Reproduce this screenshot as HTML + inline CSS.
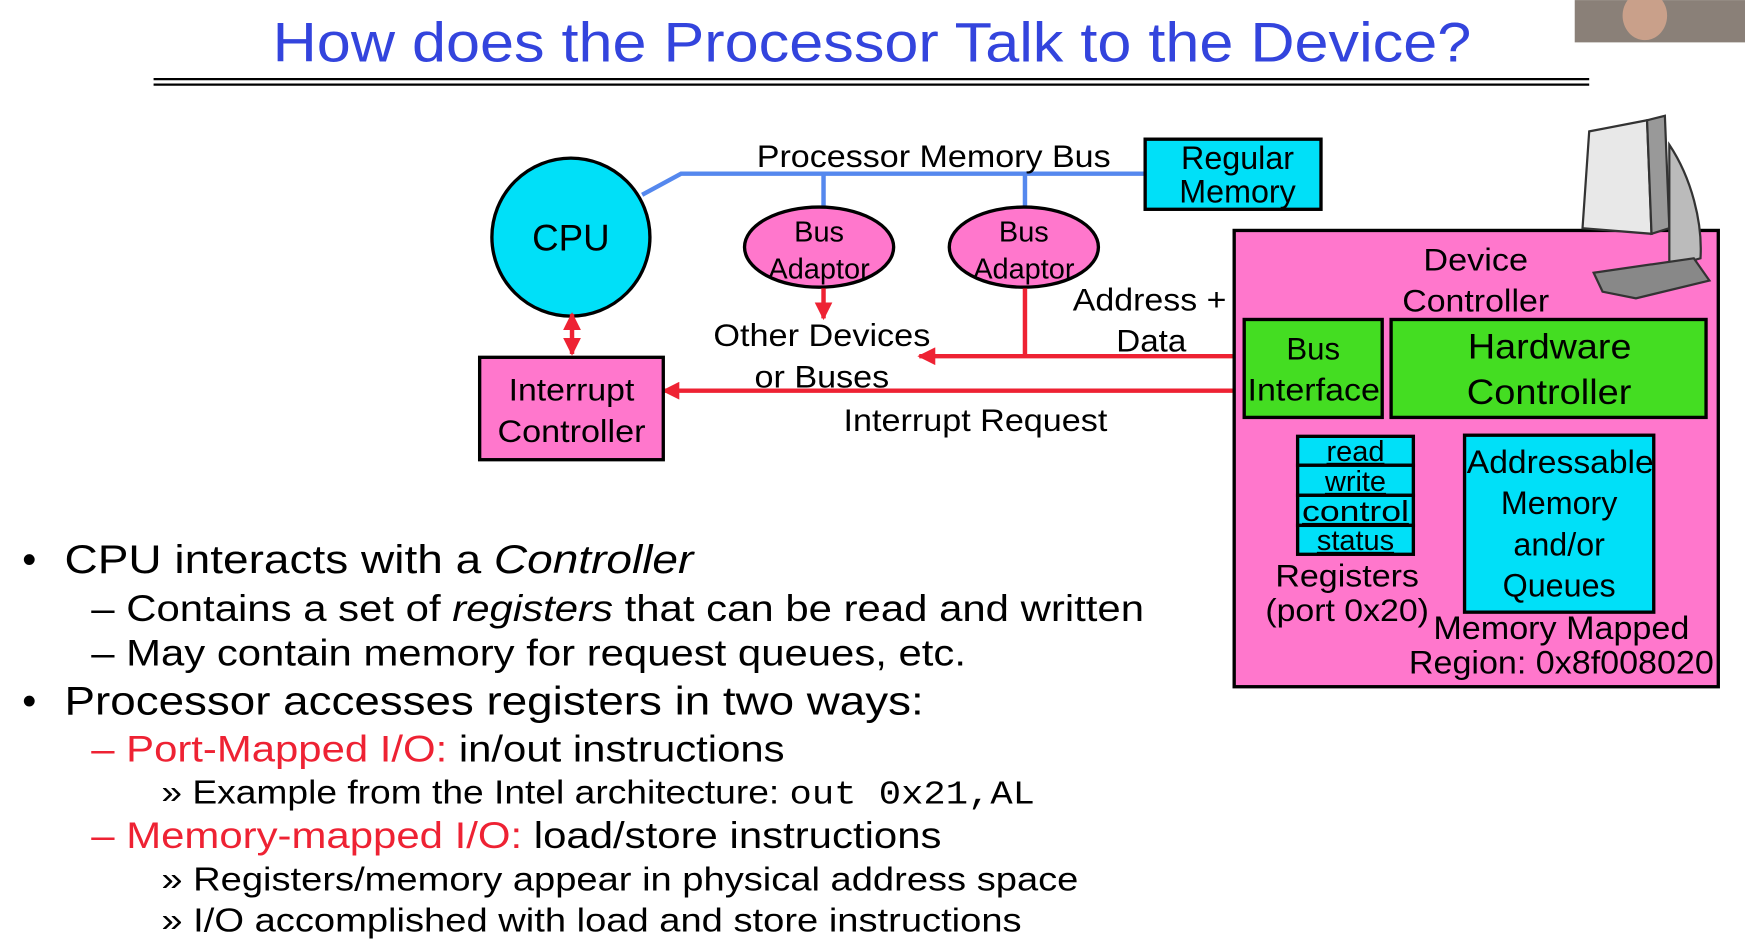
<!DOCTYPE html>
<html><head><meta charset="utf-8"><style>
html,body{margin:0;padding:0;background:#fff;width:1745px;height:945px;overflow:hidden}
svg{display:block}
text{font-family:"Liberation Sans",sans-serif;fill:#000}
</style></head><body>
<svg width="1745" height="945" viewBox="0 0 1568 849" xmlns="http://www.w3.org/2000/svg">
<defs>
<marker id="ar" viewBox="0 0 10 10" refX="9" refY="5" markerWidth="4" markerHeight="4" orient="auto-start-reverse"><path d="M0,0L10,5L0,10z" fill="#ee2233"/></marker>
</defs>
<!-- webcam -->
<rect x="1415" y="0" width="153" height="38" fill="#8a8078"/>
<ellipse cx="1478" cy="14" rx="20" ry="22" fill="#c9a08a"/>
<!-- title -->
<text x="245" y="55" font-size="50" textLength="1077" lengthAdjust="spacingAndGlyphs" style="fill:#3344dd">How does the Processor Talk to the Device?</text>
<line x1="138" y1="71" x2="1428" y2="71" stroke="#000" stroke-width="2"/>
<line x1="138" y1="76" x2="1428" y2="76" stroke="#000" stroke-width="2"/>
<!-- bus -->
<polyline points="577,175 612,156 1029,156" fill="none" stroke="#5588ee" stroke-width="4"/>
<line x1="740" y1="156" x2="740" y2="188" stroke="#5588ee" stroke-width="4"/>
<line x1="921" y1="156" x2="921" y2="188" stroke="#5588ee" stroke-width="4"/>
<text x="680" y="150" font-size="28" textLength="318" lengthAdjust="spacingAndGlyphs">Processor Memory Bus</text>
<rect x="1029" y="125" width="158" height="63" fill="#00e0f8" stroke="#000" stroke-width="3"/>
<text x="1112" y="152" font-size="29" text-anchor="middle">Regular</text>
<text x="1112" y="182" font-size="29" text-anchor="middle">Memory</text>
<!-- CPU -->
<circle cx="513" cy="213" r="71" fill="#00e0f8" stroke="#000" stroke-width="3"/>
<text x="513" y="225" font-size="33" text-anchor="middle">CPU</text>
<!-- adaptors -->
<ellipse cx="736" cy="222" rx="67" ry="36" fill="#ff77cc" stroke="#000" stroke-width="3"/>
<text x="736" y="217" font-size="26" text-anchor="middle">Bus</text>
<text x="736" y="250" font-size="26" text-anchor="middle">Adaptor</text>
<ellipse cx="920" cy="222" rx="67" ry="36" fill="#ff77cc" stroke="#000" stroke-width="3"/>
<text x="920" y="217" font-size="26" text-anchor="middle">Bus</text>
<text x="920" y="250" font-size="26" text-anchor="middle">Adaptor</text>
<!-- red -->
<line x1="740" y1="259" x2="740" y2="286" stroke="#ee2233" stroke-width="4" marker-end="url(#ar)"/>
<line x1="921" y1="259" x2="921" y2="320" stroke="#ee2233" stroke-width="4"/>
<line x1="1109" y1="320" x2="826" y2="320" stroke="#ee2233" stroke-width="4" marker-end="url(#ar)"/>
<line x1="1109" y1="351" x2="596" y2="351" stroke="#ee2233" stroke-width="4" marker-end="url(#ar)"/>
<line x1="514" y1="282" x2="514" y2="318" stroke="#ee2233" stroke-width="4" marker-end="url(#ar)" marker-start="url(#ar)"/>
<text x="641" y="311" font-size="28" textLength="195" lengthAdjust="spacingAndGlyphs">Other Devices</text>
<text x="678" y="348" font-size="28" textLength="121" lengthAdjust="spacingAndGlyphs">or Buses</text>
<text x="758" y="387" font-size="28" textLength="237" lengthAdjust="spacingAndGlyphs">Interrupt Request</text>
<text x="964" y="279" font-size="28" textLength="138" lengthAdjust="spacingAndGlyphs">Address +</text>
<text x="1003" y="316" font-size="28" textLength="63" lengthAdjust="spacingAndGlyphs">Data</text>
<!-- interrupt controller -->
<rect x="431" y="321" width="165" height="92" fill="#ff77cc" stroke="#000" stroke-width="3"/>
<text x="457" y="360" font-size="28" textLength="113" lengthAdjust="spacingAndGlyphs">Interrupt</text>
<text x="447" y="397" font-size="28" textLength="133" lengthAdjust="spacingAndGlyphs">Controller</text>
<!-- device controller -->
<rect x="1109" y="207" width="435" height="410" fill="#ff77cc" stroke="#000" stroke-width="3"/>
<text x="1279" y="243" font-size="28" textLength="94" lengthAdjust="spacingAndGlyphs">Device</text>
<text x="1260" y="280" font-size="28" textLength="132" lengthAdjust="spacingAndGlyphs">Controller</text>
<rect x="1118" y="287" width="124" height="88" fill="#44dd22" stroke="#000" stroke-width="3"/>
<text x="1180" y="323" font-size="28" text-anchor="middle">Bus</text>
<text x="1121" y="360" font-size="28" textLength="119" lengthAdjust="spacingAndGlyphs">Interface</text>
<rect x="1250" y="287" width="283" height="88" fill="#44dd22" stroke="#000" stroke-width="3"/>
<text x="1319" y="322" font-size="32" textLength="147" lengthAdjust="spacingAndGlyphs">Hardware</text>
<text x="1318" y="363" font-size="32" textLength="148" lengthAdjust="spacingAndGlyphs">Controller</text>
<g stroke="#000" stroke-width="3" fill="#00e0f8">
<rect x="1166" y="392" width="104" height="26"/><rect x="1166" y="418" width="104" height="27"/>
<rect x="1166" y="445" width="104" height="27"/><rect x="1166" y="472" width="104" height="26"/>
</g>
<g font-size="26" text-anchor="middle" text-decoration="underline">
<text x="1218" y="414">read</text><text x="1218" y="441">write</text>
<text x="1218" y="468" textLength="96" lengthAdjust="spacingAndGlyphs">control</text><text x="1218" y="494">status</text>
</g>
<text x="1146" y="527" font-size="28" textLength="129" lengthAdjust="spacingAndGlyphs">Registers</text>
<text x="1137" y="558" font-size="28" textLength="147" lengthAdjust="spacingAndGlyphs">(port 0x20)</text>
<rect x="1316" y="391" width="170" height="159" fill="#00e0f8" stroke="#000" stroke-width="3"/>
<g font-size="29" text-anchor="middle">
<text x="1402" y="425" textLength="168" lengthAdjust="spacingAndGlyphs">Addressable</text><text x="1401" y="462">Memory</text>
<text x="1401" y="499">and/or</text><text x="1401" y="536">Queues</text>
<text x="1403" y="574" textLength="230" lengthAdjust="spacingAndGlyphs">Memory Mapped</text><text x="1403" y="605" textLength="274" lengthAdjust="spacingAndGlyphs">Region: 0x8f008020</text>
</g>
<!-- computer icon -->
<g stroke="#333" stroke-width="2">
<path d="M1428,118 L1480,108 L1484,210 L1422,205 Z" fill="#e8e8e8"/>
<path d="M1480,108 L1496,104 L1500,205 L1484,210 Z" fill="#999"/>
<path d="M1500,130 C1520,160 1530,200 1528,232 L1500,240 L1500,205 Z" fill="#bbb"/>
<path d="M1432,245 L1522,232 L1536,252 L1470,268 L1440,262 Z" fill="#888"/>
</g>
<!-- bullets -->
<g font-size="36">
<text x="20" y="515">•</text><text x="58" y="515" textLength="565" lengthAdjust="spacingAndGlyphs">CPU interacts with a <tspan font-style="italic">Controller</tspan></text>
<text x="20" y="642">•</text><text x="58" y="642" textLength="772" lengthAdjust="spacingAndGlyphs">Processor accesses registers in two ways:</text>
</g>
<g font-size="33">
<text x="82" y="558" textLength="946" lengthAdjust="spacingAndGlyphs">– Contains a set of <tspan font-style="italic">registers</tspan> that can be read and written</text>
<text x="82" y="598" textLength="786" lengthAdjust="spacingAndGlyphs">– May contain memory for request queues, etc.</text>
<text x="82" y="684" textLength="623" lengthAdjust="spacingAndGlyphs"><tspan style="fill:#ee2233">– Port-Mapped I/O:</tspan> in/out instructions</text>
<text x="82" y="762" textLength="764" lengthAdjust="spacingAndGlyphs"><tspan style="fill:#ee2233">– Memory-mapped I/O:</tspan> load/store instructions</text>
</g>
<g font-size="30">
<text x="145" y="722" textLength="785" lengthAdjust="spacingAndGlyphs">» Example from the Intel architecture: <tspan font-family="Liberation Mono, monospace">out 0x21,AL</tspan></text>
<text x="145" y="800" textLength="824" lengthAdjust="spacingAndGlyphs">» Registers/memory appear in physical address space</text>
<text x="145" y="837" textLength="773" lengthAdjust="spacingAndGlyphs">» I/O accomplished with load and store instructions</text>
</g>
</svg>
</body></html>
